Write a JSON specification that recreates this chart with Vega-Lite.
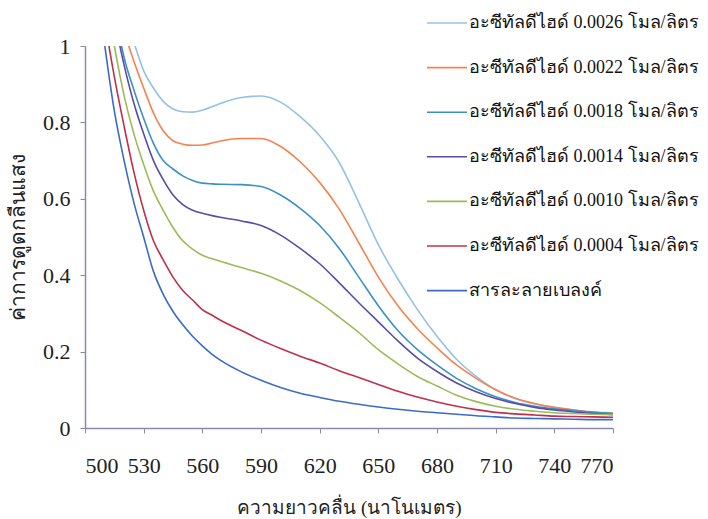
{
  "$schema": "https://vega.github.io/schema/vega-lite/v6.json",
  "width": 528,
  "height": 382,
  "autosize": "none",
  "padding": {"left": 85, "top": 46, "right": 95, "bottom": 91},
  "background": "white",
  "data": {"values": [
    {"x": 500, "a26": 2.1, "a22": 2.0, "a18": 1.8, "a14": 1.7, "a10": 1.6, "a04": 1.45, "blank": 1.4},
    {"x": 505, "a26": 1.6, "a22": 1.5, "a18": 1.4, "a14": 1.35, "a10": 1.3, "a04": 1.25, "blank": 1.2},
    {"x": 510, "a26": 1.35, "a22": 1.3, "a18": 1.25, "a14": 1.2, "a10": 1.15, "a04": 1.07, "blank": 1.005},
    {"x": 515, "a26": 1.2, "a22": 1.15, "a18": 1.1, "a14": 1.07, "a10": 1.0, "a04": 0.92, "blank": 0.83},
    {"x": 520, "a26": 1.09, "a22": 1.04, "a18": 0.97, "a14": 0.95, "a10": 0.87, "a04": 0.79, "blank": 0.7},
    {"x": 525, "a26": 1.01, "a22": 0.96, "a18": 0.885, "a14": 0.85, "a10": 0.77, "a04": 0.67, "blank": 0.59},
    {"x": 530, "a26": 0.935, "a22": 0.89, "a18": 0.81, "a14": 0.77, "a10": 0.69, "a04": 0.57, "blank": 0.5},
    {"x": 535, "a26": 0.89, "a22": 0.825, "a18": 0.745, "a14": 0.7, "a10": 0.62, "a04": 0.49, "blank": 0.41},
    {"x": 540, "a26": 0.855, "a22": 0.778, "a18": 0.7, "a14": 0.65, "a10": 0.57, "a04": 0.44, "blank": 0.35},
    {"x": 545, "a26": 0.835, "a22": 0.752, "a18": 0.678, "a14": 0.61, "a10": 0.525, "a04": 0.395, "blank": 0.305},
    {"x": 550, "a26": 0.828, "a22": 0.743, "a18": 0.66, "a14": 0.585, "a10": 0.49, "a04": 0.36, "blank": 0.27},
    {"x": 555, "a26": 0.827, "a22": 0.74, "a18": 0.648, "a14": 0.57, "a10": 0.468, "a04": 0.335, "blank": 0.24},
    {"x": 560, "a26": 0.832, "a22": 0.741, "a18": 0.641, "a14": 0.562, "a10": 0.452, "a04": 0.31, "blank": 0.215},
    {"x": 565, "a26": 0.841, "a22": 0.746, "a18": 0.639, "a14": 0.556, "a10": 0.443, "a04": 0.295, "blank": 0.193},
    {"x": 570, "a26": 0.851, "a22": 0.752, "a18": 0.638, "a14": 0.551, "a10": 0.435, "a04": 0.28, "blank": 0.175},
    {"x": 580, "a26": 0.865, "a22": 0.758, "a18": 0.637, "a14": 0.542, "a10": 0.42, "a04": 0.255, "blank": 0.147},
    {"x": 590, "a26": 0.869, "a22": 0.758, "a18": 0.632, "a14": 0.53, "a10": 0.405, "a04": 0.23, "blank": 0.125},
    {"x": 600, "a26": 0.853, "a22": 0.737, "a18": 0.61, "a14": 0.505, "a10": 0.385, "a04": 0.208, "blank": 0.106},
    {"x": 610, "a26": 0.815, "a22": 0.697, "a18": 0.575, "a14": 0.47, "a10": 0.36, "a04": 0.188, "blank": 0.091},
    {"x": 620, "a26": 0.765, "a22": 0.643, "a18": 0.53, "a14": 0.43, "a10": 0.328, "a04": 0.17, "blank": 0.08},
    {"x": 630, "a26": 0.695, "a22": 0.573, "a18": 0.47, "a14": 0.38, "a10": 0.29, "a04": 0.15, "blank": 0.07},
    {"x": 640, "a26": 0.59, "a22": 0.485, "a18": 0.395, "a14": 0.328, "a10": 0.25, "a04": 0.132, "blank": 0.062},
    {"x": 650, "a26": 0.48, "a22": 0.395, "a18": 0.32, "a14": 0.278, "a10": 0.205, "a04": 0.114, "blank": 0.055},
    {"x": 660, "a26": 0.39, "a22": 0.32, "a18": 0.255, "a14": 0.228, "a10": 0.168, "a04": 0.096, "blank": 0.049},
    {"x": 670, "a26": 0.31, "a22": 0.26, "a18": 0.205, "a14": 0.183, "a10": 0.135, "a04": 0.081, "blank": 0.044},
    {"x": 680, "a26": 0.24, "a22": 0.21, "a18": 0.165, "a14": 0.148, "a10": 0.11, "a04": 0.068, "blank": 0.04},
    {"x": 690, "a26": 0.18, "a22": 0.165, "a18": 0.13, "a14": 0.118, "a10": 0.086, "a04": 0.057, "blank": 0.036},
    {"x": 700, "a26": 0.135, "a22": 0.13, "a18": 0.103, "a14": 0.095, "a10": 0.069, "a04": 0.048, "blank": 0.032},
    {"x": 710, "a26": 0.1, "a22": 0.1, "a18": 0.082, "a14": 0.077, "a10": 0.057, "a04": 0.041, "blank": 0.029},
    {"x": 720, "a26": 0.077, "a22": 0.078, "a18": 0.067, "a14": 0.064, "a10": 0.049, "a04": 0.037, "blank": 0.026},
    {"x": 730, "a26": 0.063, "a22": 0.064, "a18": 0.057, "a14": 0.054, "a10": 0.044, "a04": 0.034, "blank": 0.025},
    {"x": 740, "a26": 0.054, "a22": 0.054, "a18": 0.05, "a14": 0.047, "a10": 0.04, "a04": 0.031, "blank": 0.024},
    {"x": 750, "a26": 0.047, "a22": 0.047, "a18": 0.045, "a14": 0.042, "a10": 0.038, "a04": 0.03, "blank": 0.023},
    {"x": 760, "a26": 0.042, "a22": 0.041, "a18": 0.041, "a14": 0.038, "a10": 0.036, "a04": 0.029, "blank": 0.022},
    {"x": 770, "a26": 0.04, "a22": 0.037, "a18": 0.038, "a14": 0.035, "a10": 0.035, "a04": 0.028, "blank": 0.022}
  ]},
  "transform": [
    {"fold": ["a26", "a22", "a18", "a14", "a10", "a04", "blank"], "as": ["k", "absorbance"]},
    {"lookup": "k", "from": {"data": {"values": [
      {"k": "a26", "name": "อะซีทัลดีไฮด์ 0.0026 โมล/ลิตร"},
      {"k": "a22", "name": "อะซีทัลดีไฮด์ 0.0022 โมล/ลิตร"},
      {"k": "a18", "name": "อะซีทัลดีไฮด์ 0.0018 โมล/ลิตร"},
      {"k": "a14", "name": "อะซีทัลดีไฮด์ 0.0014 โมล/ลิตร"},
      {"k": "a10", "name": "อะซีทัลดีไฮด์ 0.0010 โมล/ลิตร"},
      {"k": "a04", "name": "อะซีทัลดีไฮด์ 0.0004 โมล/ลิตร"},
      {"k": "blank", "name": "สารละลายเบลงค์"}
    ]}, "key": "k", "fields": ["name"]}}
  ],
  "mark": {"type": "line", "clip": true, "strokeWidth": 1.6, "interpolate": "monotone"},
  "encoding": {
    "x": {
      "field": "x", "type": "quantitative",
      "scale": {"domain": [500, 770], "nice": false, "zero": false},
      "axis": {
        "values": [500, 530, 560, 590, 620, 650, 680, 710, 740, 770],
        "title": "ความยาวคลื่น (นาโนเมตร)",
        "grid": false,
        "labelPadding": 22,
        "titleFontSize": 19,
        "titleX": 264, "titleY": 79, "titleBaseline": "middle", "titleAlign": "center"
      }
    },
    "y": {
      "field": "absorbance", "type": "quantitative",
      "scale": {"domain": [0, 1], "nice": false},
      "axis": {
        "values": [0, 0.2, 0.4, 0.6, 0.8, 1],
        "format": ".1~f",
        "title": "ค่าการดูดกลืนแสง",
        "grid": false,
        "labelPadding": 10,
        "titleFontSize": 21,
        "titleX": -67, "titleY": 191, "titleBaseline": "middle", "titleAlign": "center", "titleAngle": -90
      }
    },
    "color": {
      "field": "name", "type": "nominal",
      "scale": {
        "domain": [
          "อะซีทัลดีไฮด์ 0.0026 โมล/ลิตร",
          "อะซีทัลดีไฮด์ 0.0022 โมล/ลิตร",
          "อะซีทัลดีไฮด์ 0.0018 โมล/ลิตร",
          "อะซีทัลดีไฮด์ 0.0014 โมล/ลิตร",
          "อะซีทัลดีไฮด์ 0.0010 โมล/ลิตร",
          "อะซีทัลดีไฮด์ 0.0004 โมล/ลิตร",
          "สารละลายเบลงค์"
        ],
        "range": ["#93C2E6", "#F5834F", "#3B91C4", "#5A4BA8", "#9BBB59", "#C0304A", "#3A6BC8"]
      },
      "legend": {
        "orient": "none", "legendX": 341, "legendY": -44,
        "title": null,
        "symbolType": "stroke", "symbolSize": 1600, "symbolStrokeWidth": 1.6,
        "labelFontSize": 18, "labelFont": "Liberation Serif", "labelColor": "#111",
        "rowPadding": 14.6, "labelLimit": 400, "labelOffset": 1
      }
    }
  },
  "config": {
    "view": {"stroke": null},
    "axis": {
      "domainColor": "#8A8AAE", "tickColor": "#8A8AAE", "tickSize": 5, "domainWidth": 1.5,
      "labelFont": "Liberation Sans Narrow", "labelFontSize": 22, "labelColor": "#222",
      "titleFont": "Liberation Sans Narrow", "titleFontWeight": "normal", "titleColor": "#222"
    }
  }
}
